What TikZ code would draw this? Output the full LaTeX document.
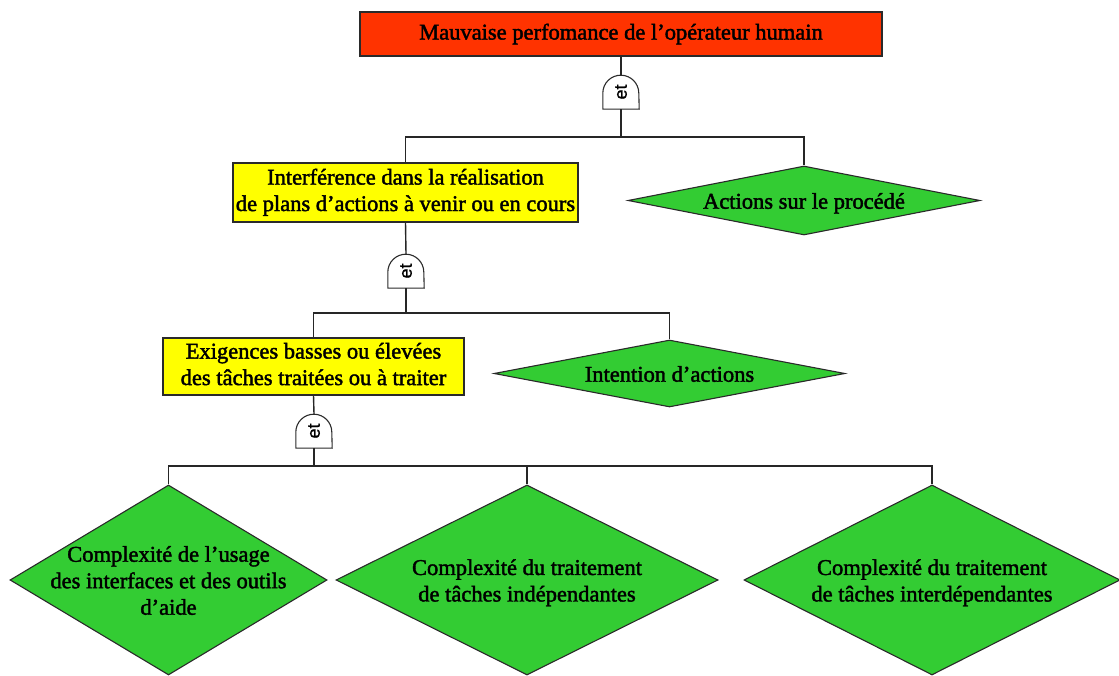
\documentclass[tikz,border=0pt]{standalone}
\usepackage{fontspec}
\setmainfont[FakeBold=1.8]{Liberation Serif}
\newfontfamily\gatefont[FakeBold=1]{Liberation Sans}
\usetikzlibrary{shapes.geometric}

\definecolor{topred}{HTML}{FF3300}
\definecolor{boxyellow}{HTML}{FFFF00}
\definecolor{leafgreen}{HTML}{33CC33}
\definecolor{edge}{HTML}{2A2A2A}

% text placed inside a diamond without enlarging it
\newcommand\dtext[1]{\smash{\makebox[0pt]{\raisebox{-0.36em}{\begin{tabular}{@{}c@{}}#1\end{tabular}}}}}
% outline of an AND gate around a gate node
\newcommand\gateoutline[1]{\draw[gateline] (#1.south west) -- ++(0,16) arc[start angle=180,end angle=0,radius=18] -- (#1.south east) -- cycle;}

\begin{document}
\begin{tikzpicture}[x=1pt,y=1pt,
  every node/.style={font=\fontsize{22.5}{26.5}\selectfont},
  event/.style={rectangle,draw=edge,line width=1.1pt,inner sep=0pt,align=center},
  topevent/.style={event,fill=topred},
  midevent/.style={event,fill=boxyellow},
  leaf/.style={diamond,draw=edge,line width=1.1pt,fill=leafgreen,inner sep=0pt},
  gatebox/.style={rectangle,draw=none,inner sep=0pt,minimum width=36pt,minimum height=34pt,
    font=\gatefont\fontsize{18}{18}\selectfont},
  gateline/.style={draw=edge,line width=1.1pt},
  wire/.style={draw=black!85,line width=1.4pt}
]
\useasboundingbox (0,0) rectangle (1119,675);

% events
\node[topevent,minimum width=522pt,minimum height=44pt] (top) at (621,641)
  {\raisebox{-1pt}{Mauvaise perfomance de l’opérateur humain}};
\node[midevent,minimum width=345pt,minimum height=59pt] (box2) at (405.5,482.5)
  {\raisebox{-2pt}{\begin{tabular}{@{}c@{}}Interférence dans la réalisation\\de plans d’actions à venir ou en cours\end{tabular}}};
\node[midevent,minimum width=301pt,minimum height=57pt] (box3) at (313.5,308.5)
  {\raisebox{-2pt}{\begin{tabular}{@{}c@{}}Exigences basses ou élevées\\des tâches traitées ou à traiter\end{tabular}}};

% basic events
\node[leaf,minimum width=352pt,minimum height=69pt] (d1) at (804,474.5)
  {\dtext{Actions sur le procédé}};
\node[leaf,minimum width=351pt,minimum height=67pt] (d2) at (669.5,301.5)
  {\dtext{Intention d’actions}};
\node[leaf,minimum width=317pt,minimum height=190pt] (d3) at (168.5,95)
  {\dtext{Complexité de l’usage\\des interfaces et des outils\\d’aide}};
\node[leaf,minimum width=382pt,minimum height=190pt] (d4) at (527,95)
  {\dtext{Complexité du traitement\\de tâches indépendantes}};
\node[leaf,minimum width=376pt,minimum height=190pt] (d5) at (932,95)
  {\dtext{Complexité du traitement\\de tâches interdépendantes}};

% AND gates
\node[gatebox] (g1) at (621,583) {\rotatebox{90}{et}};
\node[gatebox] (g2) at (406,404) {\rotatebox{90}{et}};
\node[gatebox] (g3) at (314,244) {\rotatebox{90}{et}};
\gateoutline{g1}
\gateoutline{g2}
\gateoutline{g3}

% junctions
\coordinate (j1) at (621,538);
\coordinate (j2) at (406,362);
\coordinate (j3) at (314,209);

% connectors
\draw[wire] (top.south) -- (g1.north);
\draw[wire] (g1.south) -- (j1);
\draw[wire] (box2.north) |- (j1) -| (d1.north);

\draw[wire] (box2.south) -- (g2.north);
\draw[wire] (g2.south) -- (j2);
\draw[wire] (box3.north) |- (j2) -| (d2.north);

\draw[wire] (box3.south) -- (g3.north);
\draw[wire] (g3.south) -- (j3);
\draw[wire] (d3.north) |- (j3) -| (d5.north);
\draw[wire] (d4.north) -- (d4.north |- j3);
\end{tikzpicture}
\end{document}
